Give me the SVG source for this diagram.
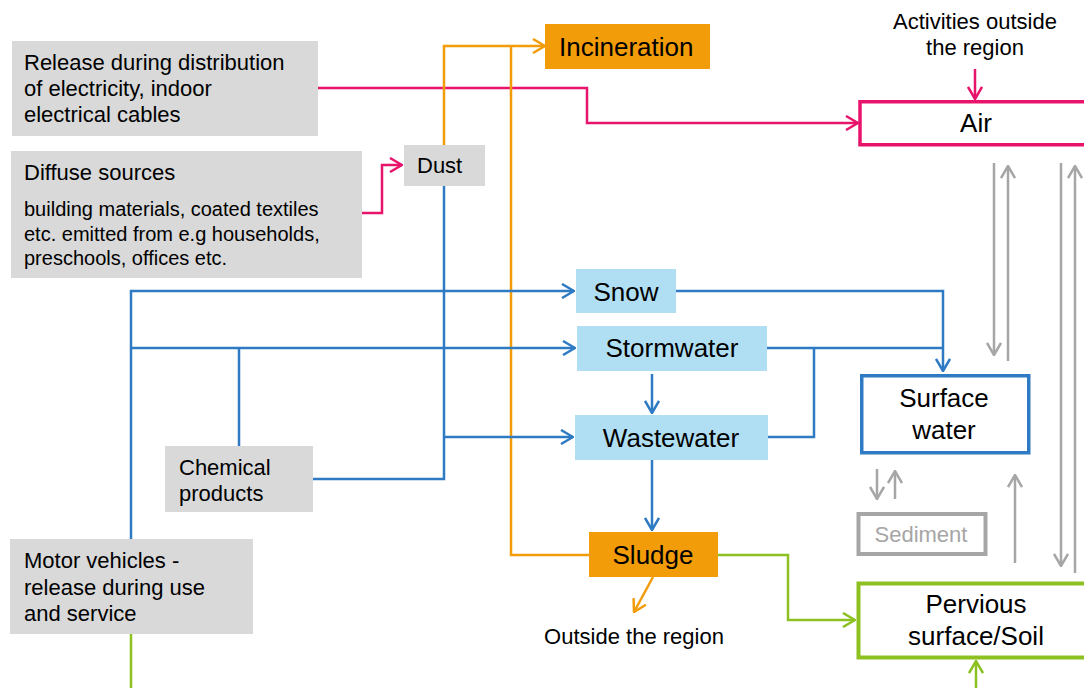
<svg xmlns="http://www.w3.org/2000/svg" width="1084" height="688" viewBox="0 0 1084 688">
<style>
text{font-family:"Liberation Sans",Arial,sans-serif;fill:#000}
.s22{font-size:22px}
.s20{font-size:20px}
.s26{font-size:26px}
.m{text-anchor:middle}
.gray{fill:#d9d9d9}
.lb{fill:#b0dff4}
.org{fill:#f39c0a}
.c{fill:none;stroke-width:2.5}
.pk{stroke:#e8136b}
.bl{stroke:#2e7bc4}
.or{stroke:#f39c0a}
.gr{stroke:#8dc021}
.gy{stroke:#a6a6a6}
</style>
<defs>
<marker id="aPk" viewBox="0 0 14 16" refX="13" refY="8" markerWidth="14" markerHeight="16" markerUnits="userSpaceOnUse" orient="auto"><path d="M1,1 L13,8 L1,15" fill="none" stroke="#e8136b" stroke-width="2.5"/></marker>
<marker id="aBl" viewBox="0 0 14 16" refX="13" refY="8" markerWidth="14" markerHeight="16" markerUnits="userSpaceOnUse" orient="auto"><path d="M1,1 L13,8 L1,15" fill="none" stroke="#2e7bc4" stroke-width="2.5"/></marker>
<marker id="aOr" viewBox="0 0 14 16" refX="13" refY="8" markerWidth="14" markerHeight="16" markerUnits="userSpaceOnUse" orient="auto"><path d="M1,1 L13,8 L1,15" fill="none" stroke="#f39c0a" stroke-width="2.5"/></marker>
<marker id="aGr" viewBox="0 0 14 16" refX="13" refY="8" markerWidth="14" markerHeight="16" markerUnits="userSpaceOnUse" orient="auto"><path d="M1,1 L13,8 L1,15" fill="none" stroke="#8dc021" stroke-width="2.5"/></marker>
<marker id="aGy" viewBox="0 0 14 16" refX="13" refY="8" markerWidth="14" markerHeight="16" markerUnits="userSpaceOnUse" orient="auto"><path d="M1,1 L13,8 L1,15" fill="none" stroke="#a6a6a6" stroke-width="2.5"/></marker>
</defs>
<rect width="1084" height="688" fill="#fff"/>

<g id="connectors">
  <!-- pink -->
  <path class="c pk" d="M318,88 H587 V123 H858" marker-end="url(#aPk)"/>
  <path class="c pk" d="M361,213 H382 V165 H402" marker-end="url(#aPk)"/>
  <path class="c pk" d="M975,69 V99" marker-end="url(#aPk)"/>
  <!-- orange -->
  <path class="c or" d="M444,145 V46 H545" marker-end="url(#aOr)"/>
  <path class="c or" d="M511,46 V555 H589"/>
  <path class="c or" d="M653,577 L634,612" marker-end="url(#aOr)"/>
  <!-- blue -->
  <path class="c bl" d="M131,539 V291 H574" marker-end="url(#aBl)"/>
  <path class="c bl" d="M131,348 H575" marker-end="url(#aBl)"/>
  <path class="c bl" d="M239,348 V446"/>
  <path class="c bl" d="M313,479 H444 V186"/>
  <path class="c bl" d="M444,437 H573" marker-end="url(#aBl)"/>
  <path class="c bl" d="M676,291 H943 V371" marker-end="url(#aBl)"/>
  <path class="c bl" d="M767,348 H943"/>
  <path class="c bl" d="M768,437 H814 V348"/>
  <path class="c bl" d="M652,374 V413" marker-end="url(#aBl)"/>
  <path class="c bl" d="M652,460 V530" marker-end="url(#aBl)"/>
  <!-- green -->
  <path class="c gr" d="M718,555 H788 V620 H855" marker-end="url(#aGr)"/>
  <path class="c gr" d="M131,634 V688"/>
  <path class="c gr" d="M976,688 V661" marker-end="url(#aGr)"/>
  <!-- gray -->
  <path class="c gy" d="M994,163 V355" marker-end="url(#aGy)"/>
  <path class="c gy" d="M1008,361 V166" marker-end="url(#aGy)"/>
  <path class="c gy" d="M1061,163 V566" marker-end="url(#aGy)"/>
  <path class="c gy" d="M1075,573 V166" marker-end="url(#aGy)"/>
  <path class="c gy" d="M877,469 V499" marker-end="url(#aGy)"/>
  <path class="c gy" d="M895,499 V471" marker-end="url(#aGy)"/>
  <path class="c gy" d="M1015,563 V475" marker-end="url(#aGy)"/>
</g>

<g id="release">
  <rect class="gray" x="12" y="41" width="306" height="95"/>
  <text class="s22" x="24" y="70">Release during distribution</text>
  <text class="s22" x="24" y="96">of electricity, indoor</text>
  <text class="s22" x="24" y="122">electrical cables</text>
</g>
<g id="diffuse">
  <rect class="gray" x="11" y="151" width="351" height="127"/>
  <text class="s22" x="24" y="180">Diffuse sources</text>
  <text class="s20" x="24" y="216">building materials, coated textiles</text>
  <text class="s20" x="24" y="241">etc. emitted from e.g households,</text>
  <text class="s20" x="24" y="265">preschools, offices etc.</text>
</g>
<g id="dust">
  <rect class="gray" x="404" y="145" width="81" height="41"/>
  <text class="s22" x="417" y="173">Dust</text>
</g>
<g id="incineration">
  <rect class="org" x="545" y="24" width="165" height="45"/>
  <text class="s26" x="559" y="56">Incineration</text>
</g>
<g id="activities">
  <text class="s22 m" x="975" y="29">Activities outside</text>
  <text class="s22 m" x="975" y="55">the region</text>
</g>
<g id="air">
  <rect x="860" y="101.75" width="240" height="43" fill="#fff" stroke="#e8136b" stroke-width="3.5"/>
  <text class="s26 m" x="976" y="132">Air</text>
</g>
<g id="snow">
  <rect class="lb" x="576" y="269" width="100" height="44"/>
  <text class="s26 m" x="626" y="301">Snow</text>
</g>
<g id="stormwater">
  <rect class="lb" x="577" y="326" width="190" height="45"/>
  <text class="s26 m" x="672" y="357">Stormwater</text>
</g>
<g id="wastewater">
  <rect class="lb" x="575" y="415" width="193" height="45"/>
  <text class="s26 m" x="671" y="447">Wastewater</text>
</g>
<g id="sludge">
  <rect class="org" x="589" y="532" width="129" height="45"/>
  <text class="s26 m" x="653" y="564">Sludge</text>
</g>
<g id="outside">
  <text class="s22 m" x="634" y="644">Outside the region</text>
</g>
<g id="chemical">
  <rect class="gray" x="165" y="446" width="148" height="66"/>
  <text class="s22" x="179" y="475">Chemical</text>
  <text class="s22" x="179" y="501">products</text>
</g>
<g id="motor">
  <rect class="gray" x="10" y="539" width="243" height="95"/>
  <text class="s22" x="24" y="568">Motor vehicles -</text>
  <text class="s22" x="24" y="595">release during use</text>
  <text class="s22" x="24" y="621">and service</text>
</g>
<g id="surfacewater">
  <rect x="861.75" y="375.75" width="167" height="77" fill="#fff" stroke="#2e7bc4" stroke-width="3.5"/>
  <text class="s26 m" x="944" y="407">Surface</text>
  <text class="s26 m" x="944" y="439">water</text>
</g>
<g id="sediment">
  <rect x="858.5" y="514" width="127" height="40" fill="#fff" stroke="#a6a6a6" stroke-width="4"/>
  <text class="s22 m" x="921" y="542" style="fill:#a6a6a6">Sediment</text>
</g>
<g id="pervious">
  <rect x="858.5" y="583.5" width="240" height="74" fill="#fff" stroke="#8dc021" stroke-width="4"/>
  <text class="s26 m" x="976" y="613">Pervious</text>
  <text class="s26 m" x="976" y="645">surface/Soil</text>
</g>
</svg>
